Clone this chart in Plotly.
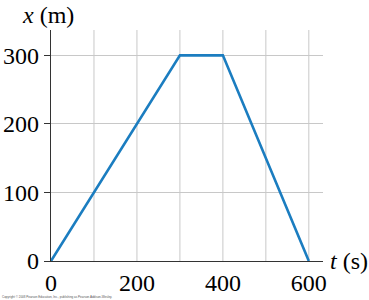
import plotly.graph_objects as go

t_vals = [0, 300, 400, 600]
x_vals = [0, 300, 300, 0]
x_ticks = [0, 200, 400, 600]
x_minor = [0, 100, 200, 300, 400, 500, 600]
y_ticks = [0, 100, 200, 300]

serif = "Liberation Serif, Times New Roman, serif"
fig = go.Figure()
fig.add_trace(go.Scatter(x=t_vals, y=x_vals, mode="lines",
                         line=dict(color="#1b7dc0", width=2.6),
                         hoverinfo="skip", showlegend=False, cliponaxis=False))

fig.update_layout(
    width=369, height=300,
    margin=dict(l=51, r=46, t=30, b=39),
    paper_bgcolor="white", plot_bgcolor="white",
    font=dict(family=serif, size=22, color="black"),
    xaxis=dict(range=[0, 633], tickvals=x_ticks, ticktext=[str(v) for v in x_ticks],
               showgrid=False, zeroline=False, showline=True, linecolor="#333",
               linewidth=1.2, ticks="", automargin=False,
               tickfont=dict(family=serif, size=24)),
    yaxis=dict(range=[0, 337], tickvals=y_ticks, showgrid=True, gridcolor="#c8c8c8",
               gridwidth=1, zeroline=False, showline=True, linecolor="#333",
               linewidth=1.2, ticks="outside", ticklen=6, tickcolor="#333",
               automargin=False, tickfont=dict(family=serif, size=24)),
)
# vertical gridlines and x tick marks
for v in x_minor:
    if v > 0:
        fig.add_shape(type="line", xref="x", yref="paper", x0=v, x1=v, y0=0, y1=1,
                      line=dict(color="#c8c8c8", width=1), layer="below")
    fig.add_shape(type="line", xref="x", yref="y", x0=v, x1=v, y0=-7, y1=0,
                  line=dict(color="#333", width=1.2))

fig.add_annotation(text="<i>x</i> (m)", xref="paper", yref="paper", x=-0.01, y=1.0,
                   xanchor="center", yanchor="bottom", showarrow=False,
                   font=dict(family=serif, size=24))
fig.add_annotation(text="<i>t</i> (s)", xref="paper", yref="paper", x=1.02, y=0,
                   xanchor="left", yanchor="middle", showarrow=False,
                   font=dict(family=serif, size=24))
fig.add_annotation(text="Copyright © 2008 Pearson Education, Inc., publishing as Pearson Addison-Wesley.",
                   xref="paper", yref="paper", x=-0.186, y=-0.172, xanchor="left",
                   yanchor="bottom", showarrow=False,
                   font=dict(family="Liberation Sans", size=3, color="#555"))

fig.write_html("out.html")
